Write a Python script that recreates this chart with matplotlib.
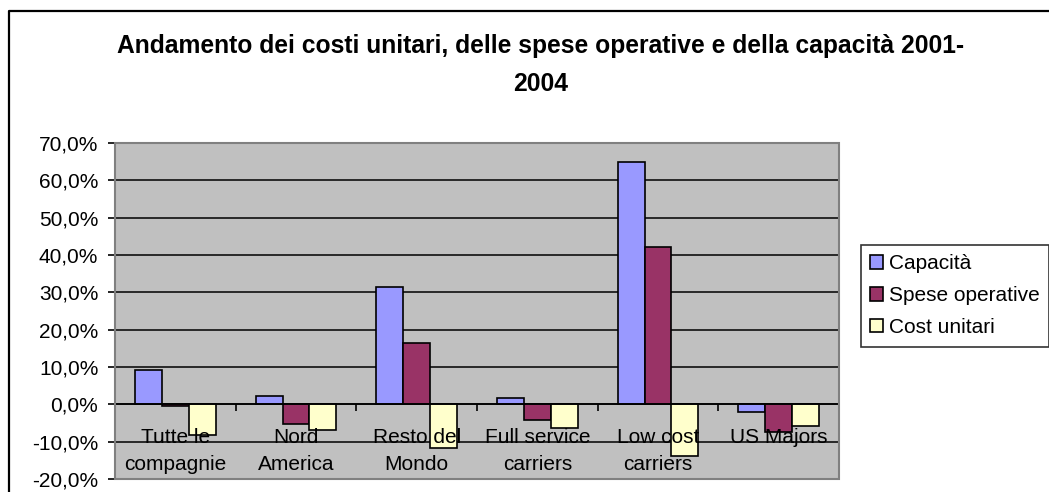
import numpy as np
import matplotlib.pyplot as plt
import matplotlib.transforms as mtransforms
from matplotlib.lines import Line2D
from matplotlib.patches import Rectangle
from matplotlib.ticker import FuncFormatter, FixedLocator

plt.rcParams['font.family'] = ['Liberation Sans', 'DejaVu Sans']

categories = ["Tutte le\ncompagnie", "Nord\nAmerica", "Resto del\nMondo",
              "Full service\ncarriers", "Low cost\ncarriers", "US Majors"]
series_names = ["Capacità", "Spese operative", "Cost unitari"]
capacita = [9.3, 2.2, 31.3, 1.7, 64.8, -2.1]
spese_operative = [-0.4, -5.2, 16.3, -4.1, 42.1, -7.3]
cost_unitari = [-8.3, -6.8, -11.7, -6.3, -13.9, -5.7]
colors = ["#9999FF", "#993366", "#FFFFCC"]

W, H = 1049, 492
FS = 15
fig = plt.figure(figsize=(W / 100, H / 100), dpi=100)

# plot area in pixel coordinates
left, right, top, bottom = 115, 839, 143, 479
ax = fig.add_axes([left / W, (H - bottom) / H, (right - left) / W, (bottom - top) / H])
ax.set_facecolor("#C0C0C0")

x = np.arange(len(categories))
bw = 1 / 4.5
for k, vals in enumerate([capacita, spese_operative, cost_unitari]):
    ax.bar(x + (k - 1) * bw, vals, width=bw, color=colors[k],
           edgecolor="black", linewidth=1.2, label=series_names[k], zorder=3)

ax.set_xlim(-0.5, len(categories) - 0.5)
ax.set_ylim(-20, 70)
ax.set_yticks(np.arange(-20, 71, 10))
ax.yaxis.set_major_formatter(FuncFormatter(lambda v, p: f"{v:.1f}%".replace(".", ",")))
ax.yaxis.grid(True, color="black", linewidth=1.1, zorder=1)
ax.set_axisbelow(True)

# category axis crosses at zero
for s in ["top", "right"]:
    ax.spines[s].set_visible(False)
ax.spines["left"].set_color("black")
ax.spines["left"].set_linewidth(1.2)
ax.spines["bottom"].set_position(("data", 0))
ax.spines["bottom"].set_color("black")
ax.spines["bottom"].set_linewidth(1.2)
ax.spines["bottom"].set_zorder(4)
ax.add_patch(Rectangle((0, 0), 1, 1, transform=ax.transAxes, fill=False,
                       edgecolor="#808080", linewidth=1.5, zorder=5, clip_on=False))

ax.set_xticks(x)
ax.set_xticklabels([])
ax.xaxis.set_minor_locator(FixedLocator(np.arange(-0.5, len(categories), 1)))
ax.tick_params(axis="x", which="major", length=0)
ax.tick_params(axis="x", which="minor", length=5, width=1.2, direction="out")
ax.tick_params(axis="y", length=5, width=1.2, direction="out", labelsize=FS, pad=7)

# category labels sit below the zero line, drawn over the bars
for i, lab in enumerate(categories):
    for j, line in enumerate(lab.split("\n")):
        off = mtransforms.offset_copy(ax.transData, fig=fig, x=0, y=-(39 + 27 * j) * 0.72,
                                      units="points")
        ax.text(i, 0, line, transform=off, ha="center", va="baseline",
                fontsize=FS, zorder=6)

title_lines = ["Andamento dei costi unitari, delle spese operative e della capacità 2001-", "2004"]
for j, line in enumerate(title_lines):
    fig.text(0.515, 1 - (53 + 38 * j) / H, line, ha="center", va="baseline",
             fontsize=17.7, fontweight="bold")

leg = fig.legend(loc="upper left", bbox_to_anchor=(861 / W, 1 - 245 / H), fontsize=FS,
                 frameon=True, fancybox=False, edgecolor="black", handlelength=0.6,
                 handleheight=0.6, handletextpad=0.3, labelspacing=0.62,
                 borderpad=0.45, borderaxespad=0)
leg.get_frame().set_linewidth(1.2)

# chart border
fig.add_artist(Line2D([9 / W, 9 / W, 1.0], [0.0, 1 - 11 / H, 1 - 11 / H],
                      transform=fig.transFigure, color="black", linewidth=1.6))

fig.savefig("out.png", dpi=100)
